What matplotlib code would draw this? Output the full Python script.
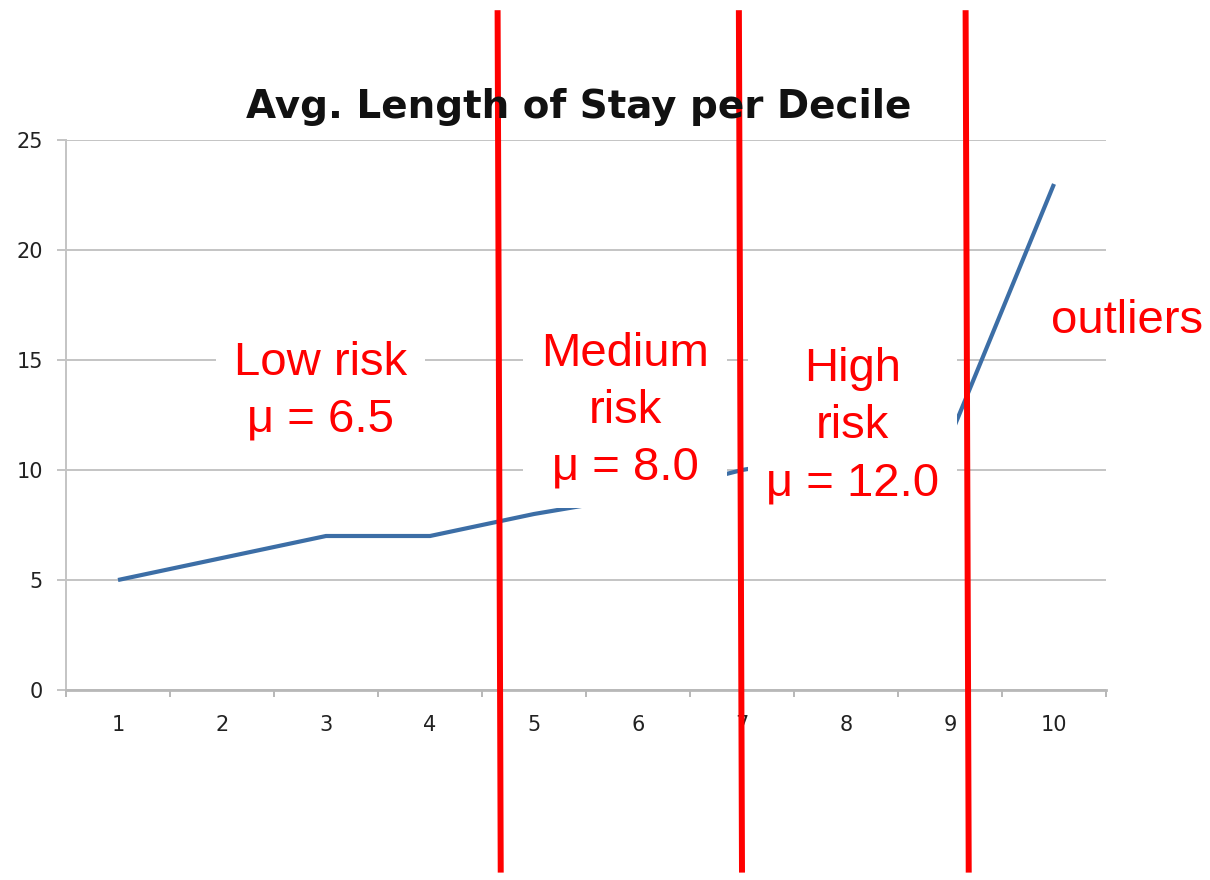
import matplotlib.pyplot as plt
import numpy as np

# data
deciles = [1, 2, 3, 4, 5, 6, 7, 8, 9, 10]
avg_stay = [5, 6, 7, 7, 8, 8.8, 10, 10.8, 11.5, 23]
y_ticks = [0, 5, 10, 15, 20, 25]

# group labels: text, x center, baseline of last line (data units)
group_labels = ["Low risk\nμ = 6.5", "Medium\nrisk\nμ = 8.0", "High\nrisk\nμ = 12.0"]
group_x = [2.95, 5.875, 8.06]
group_y = [11.73, 9.55, 8.86]

# red separators (x at top, x at bottom)
cut_top = [4.65, 6.97, 9.15]
cut_bottom = [4.68, 7.0, 9.18]

grid_col = "#c4c4c4"

fig = plt.figure(figsize=(12.1, 8.8), dpi=100)
ax = fig.add_axes([66 / 1210, 190 / 880, 1040 / 1210, 550 / 880])

ax.plot(deciles, avg_stay, color="#3c6ea6", lw=3, solid_capstyle="butt", zorder=3)

ax.set_xlim(0.5, 10.5)
ax.set_ylim(0, 25)
ax.set_yticks(y_ticks)
ax.set_xticks(deciles)
ax.set_xticks(np.arange(0.5, 11, 1), minor=True)

ax.yaxis.grid(True, color=grid_col, lw=1.4)
ax.set_axisbelow(True)
for s in ["top", "right"]:
    ax.spines[s].set_visible(False)
ax.spines["left"].set_color(grid_col)
ax.spines["left"].set_linewidth(1.4)
ax.spines["bottom"].set_color("#b8b8b8")
ax.spines["bottom"].set_linewidth(2)

ax.tick_params(axis="y", length=6.5, width=1.4, color=grid_col, pad=10,
               labelsize=15, labelcolor="#222222")
ax.tick_params(axis="x", which="major", length=0, pad=18,
               labelsize=15, labelcolor="#222222")
ax.tick_params(axis="x", which="minor", length=5, width=1.4, color="#b8b8b8")

fig.text(0.478, 1 - 118 / 880, "Avg. Length of Stay per Decile",
         ha="center", va="baseline", fontsize=28, fontweight="bold",
         family="DejaVu Sans", color="#111111")

for lab, gx, gy in zip(group_labels, group_x, group_y):
    ax.text(gx, gy, lab, ha="center", va="baseline", multialignment="center",
            fontsize=34, family="Liberation Sans", color="#ff0000", zorder=4,
            linespacing=1.38,
            bbox=dict(facecolor="white", edgecolor="none", pad=13))

ax.text(10.70, 16.23, "outliers", ha="center", va="baseline", fontsize=34,
        family="Liberation Sans", color="#ff0000", zorder=4, clip_on=False)

for xt, xb in zip(cut_top, cut_bottom):
    ax.plot([xt, xb], [30.9, -8.3], color="#ff0000", lw=4.3,
            clip_on=False, zorder=5, solid_capstyle="butt")

fig.savefig("out.png", dpi=100)
